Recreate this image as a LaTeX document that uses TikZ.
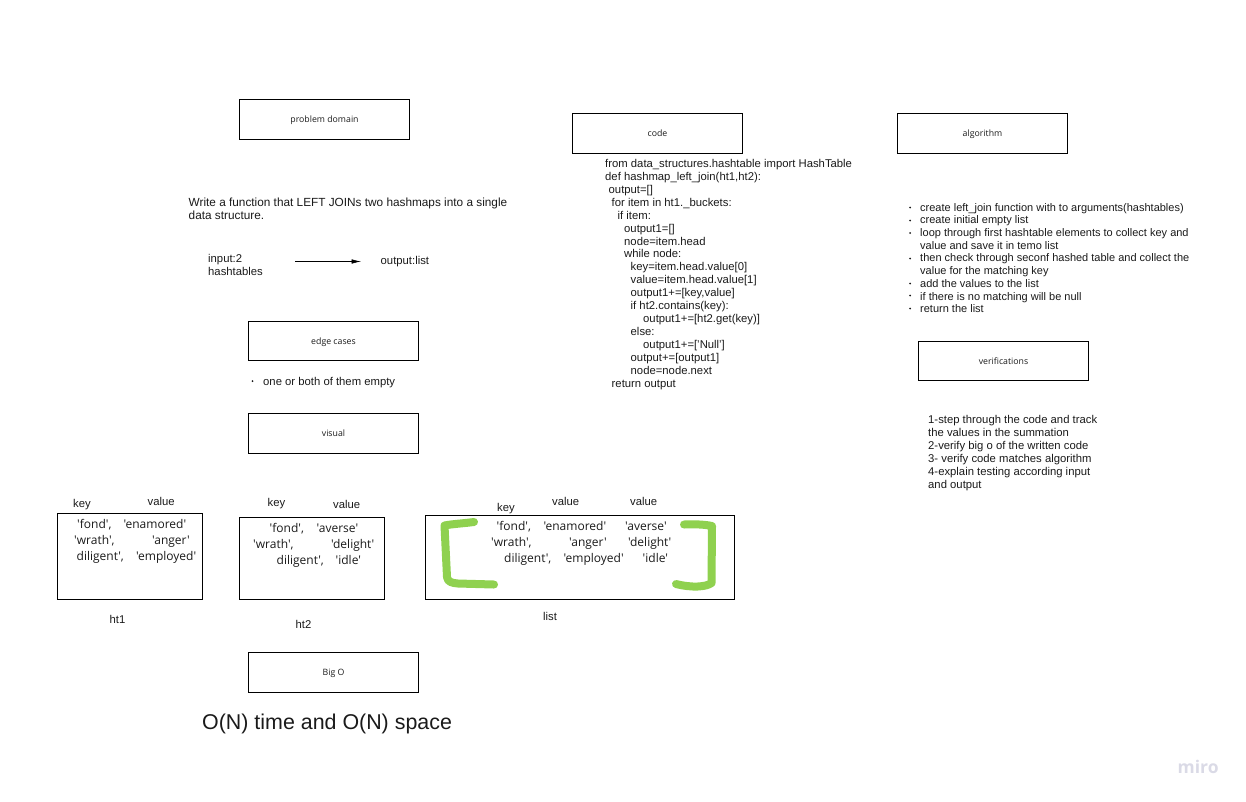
\documentclass[tikz,border=0pt]{standalone}
\usepackage{fontspec}
\setmainfont{Liberation Sans}
\newfontfamily\boxfont{Open Sans}
\usetikzlibrary{arrows.meta, positioning}
\definecolor{markgreen}{HTML}{8FD14F}
\definecolor{logogrey}{HTML}{DADAE6}
\definecolor{textgrey}{HTML}{1A1A1A}
\tikzset{
  titlebox/.style={draw=black,line width=1pt,minimum width=170.5pt,minimum height=39.5pt,inner sep=0pt,text height=7pt,text depth=0pt,font=\boxfont\fontsize{8.75}{11}\selectfont,text=textgrey},
  tablebox/.style={draw=black,line width=1pt,anchor=north west,inner sep=0pt},
  plain/.style={anchor=base west,inner sep=0pt,font=\fontsize{11.3}{12.94}\selectfont,text=textgrey},
  para/.style={plain,align=left,anchor=north west},
  cell/.style={anchor=base west,inner sep=0pt,font=\boxfont\fontsize{12}{14}\selectfont,text=textgrey},
  bracket/.style={draw=markgreen,line width=8pt,line cap=round,line join=round},
  dotitem/.style={circle,fill=textgrey,inner sep=0pt,minimum size=2pt}
}
\begin{document}
\begin{tikzpicture}[x=1pt,y=-1pt]
\useasboundingbox (0,0) rectangle (1246,801);
% title boxes
\node[titlebox] (domain) at (324.5,119.25) {problem domain};
\node[titlebox] (code) at (657.5,133.25) {code};
\node[titlebox] (algorithm) at (982.5,133.25) {algorithm};
\node[titlebox] (edge) at (333.5,340.75) {edge cases};
\node[titlebox] (visual) at (333.5,433.25) {visual};
\node[titlebox] (verify) at (1003.5,360.75) {verifications};
\node[titlebox] (bigo) at (333.5,672.25) {Big O};
% problem text
\node[para,font=\fontsize{11.8}{12.94}\selectfont] (task) at (188.5,198) {Write a function that LEFT JOINs two hashmaps into a single\\data structure.};
\node[para] (input) at (208,254.5) {input:2\\hashtables};
\node[plain] (output) at (380.5,264) {output:list};
\coordinate (arrowa) at (295,261.5);
\coordinate (arrowb) at (361,261.5);
\draw[-{Latex[length=9.5pt,width=4.5pt]},line width=0.5pt] (arrowa) -- (arrowb);
\node[dotitem] (edgedot) at (252.5,381) {};
\node[plain] (edgeitem) at (263,385) {one or both of them empty};
% code
\node[para] (source) at (605,159) {from data\_structures.hashtable import HashTable\\
def hashmap\_left\_join(ht1,ht2):\\
\hspace*{3.5pt}output=[]\\
\hspace*{6.5pt}for item in ht1.\_buckets:\\
\hspace*{12.5pt}if item:\\
\hspace*{19pt}output1=[]\\
\hspace*{19pt}node=item.head\\
\hspace*{19pt}while node:\\
\hspace*{25.5pt}key=item.head.value[0]\\
\hspace*{25.5pt}value=item.head.value[1]\\
\hspace*{25.5pt}output1+=[key,value]\\
\hspace*{25.5pt}if ht2.contains(key):\\
\hspace*{38pt}output1+=[ht2.get(key)]\\
\hspace*{25.5pt}else:\\
\hspace*{38pt}output1+=['Null']\\
\hspace*{25.5pt}output+=[output1]\\
\hspace*{25.5pt}node=node.next\\
\hspace*{6.5pt}return output};
% algorithm list
\node[para,font=\fontsize{11}{12.7}\selectfont] (steps) at (920,203) {create left\_join function with to arguments(hashtables)\\
create initial empty list\\
loop through first hashtable elements to collect key and\\
value and save it in temo list\\
then check through seconf hashed table and collect the\\
value for the matching key\\
add the values to the list\\
if there is no matching will be null\\
return the list};
\foreach \y in {207.5,220.5,233,258.5,283.5,295.5,308.5}
\node[dotitem] at (910,\y) {};
\node[para] (checks) at (928,415) {1-step through the code and track\\
the values in the summation\\
2-verify big o of the written code\\
3- verify code matches algorithm\\
4-explain testing according input\\
and output};
% ht1
\node[tablebox,minimum width=145.5pt,minimum height=86.5pt] (htone) at (56.5,512.5) {};
\node[plain] at (73,507) {key};
\node[plain] at (147.5,505) {value};
\node[plain] at (109.5,623) {ht1};
\foreach \x/\y/\t in {77/528/{'fond',}, 123.5/528/'enamored', 74/544/{'wrath',}, 152/544/'anger', 76.5/560/{diligent',}, 136/560/'employed'}
\node[cell] at (\x,\y) {\t};
% ht2
\node[tablebox,minimum width=145.5pt,minimum height=82.5pt] (httwo) at (238.5,516.5) {};
\node[plain] at (267.5,506) {key};
\node[plain] at (333,508) {value};
\node[plain] at (295.5,628) {ht2};
\foreach \x/\y/\t in {269.5/532/{'fond',}, 316.5/532/'averse', 253/548/{'wrath',}, 331/548/'delight', 276.5/564/{diligent',}, 335.5/564/'idle'}
\node[cell] at (\x,\y) {\t};
% list
\node[tablebox,minimum width=309.5pt,minimum height=84.5pt] (joined) at (424.5,514.5) {};
\node[plain] at (497,511) {key};
\node[plain] at (552,505) {value};
\node[plain] at (630,505) {value};
\node[plain] at (543,620) {list};
\foreach \x/\y/\t in {496.5/530/{'fond',}, 543.5/530/'enamored', 625/530/'averse', 491/546/{'wrath',}, 569/546/'anger', 628/546/'delight', 504/562/{diligent',}, 563.5/562/'employed', 642.5/562/'idle'}
\node[cell] at (\x,\y) {\t};
\draw[bracket] (474,522) .. controls (462,523.5) and (452,524) .. (444.5,525.5) -- (447,577) .. controls (447.5,582) and (452,583) .. (458,583.5) -- (494,584.5);
\draw[bracket] (684,524.5) .. controls (695,524) and (705,524.5) .. (712,526) -- (711.5,583) .. controls (706,587) and (692,588) .. (676,584);
% footer
\node[anchor=base west,inner sep=0pt,font=\fontsize{21.4}{26}\selectfont,text=textgrey] (cost) at (202,729) {O(N) time and O(N) space};
\node[anchor=base west,inner sep=0pt,font=\boxfont\bfseries\fontsize{17.5}{22}\selectfont,text=logogrey] (logo) at (1177.5,773.5) {miro};
\end{tikzpicture}
\end{document}
